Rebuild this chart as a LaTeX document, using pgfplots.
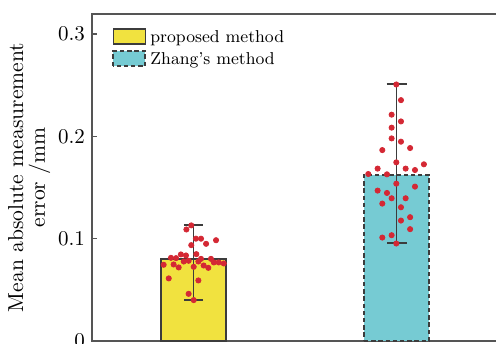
\documentclass[border=0pt]{standalone}
\usepackage{pgfplots}
\pgfplotsset{compat=1.18}
\definecolor{baryellow}{RGB}{241,226,63}
\definecolor{barcyan}{RGB}{118,203,211}
\definecolor{dotred}{RGB}{212,40,52}
\definecolor{edgegray}{RGB}{60,60,60}
\definecolor{axisgray}{RGB}{85,85,85}
\pgfplotsset{boxlegend/.style={legend image code/.code={\draw[##1] (0pt,-0.8pt) rectangle (16pt,6.7pt);}}}
\begin{document}
\begin{tikzpicture}
\begin{axis}[
  name=ax,
  scale only axis,
  width=203pt, height=163.5pt,
  xmin=0.5, xmax=2.5,
  ymin=0, ymax=0.3196,
  xtick=\empty,
  ytick={0,0.1,0.2,0.3},
  yticklabels={0,0.1,0.2,0.3},
  ytick pos=left,
  tick align=inside,
  major tick length=2.5pt,
  tick style={axisgray, line width=0.8pt},
  axis line style={axisgray, line width=1pt},
  yticklabel style={font=\fontsize{10.5}{12}\selectfont},
  ylabel={Mean absolute measurement\\error /mm},
  ylabel style={align=center, font=\fontsize{10.8}{10.8}\selectfont, at={(axis description cs:-0.102,0.5)}, anchor=south, inner sep=0pt},
  legend style={at={(axis description cs:0,1)}, anchor=north west, xshift=10pt, yshift=-7pt,
    draw=none, fill=none, inner sep=0pt, row sep=2.2pt, column sep=2pt,
    font=\fontsize{8.6}{10}\selectfont, nodes={inner sep=0pt, anchor=base west}},
  legend cell align=left,
  clip=false,
]
\addplot[ybar, bar width=32.5pt, bar shift=0pt, fill=baryellow, draw=edgegray, line width=0.8pt,
  boxlegend,
  error bars/.cd, y dir=both, y explicit,
  error bar style={edgegray, line width=0.8pt, solid},
  error mark options={rotate=90, mark size=4.8pt, edgegray, line width=0.8pt, solid}]
  coordinates {(1,0.0802) += (0,0.0332) -= (0,0.0401)};
\addlegendentry{proposed method}
\addplot[ybar, bar width=32.5pt, bar shift=0pt, fill=barcyan, draw=edgegray, line width=1pt,
  dash pattern=on 2.2pt off 1.4pt,
  boxlegend,
  error bars/.cd, y dir=both, y explicit,
  error bar style={edgegray, line width=0.8pt, solid},
  error mark options={rotate=90, mark size=5pt, edgegray, line width=0.8pt, solid}]
  coordinates {(2,0.1623) += (0,0.0889) -= (0,0.0665)};
\addlegendentry{Zhang's method}
\addplot[only marks, mark=*, mark size=1.3pt, color=dotred, forget plot] table {
x y
0.989 0.113
0.965 0.109
1.012 0.100
1.037 0.100
1.111 0.0985
1.062 0.095
0.989 0.0937
0.938 0.0846
0.963 0.0836
1.014 0.0849
0.889 0.0813
0.914 0.081
1.037 0.0803
1.086 0.0803
0.952 0.0777
0.976 0.0784
1.024 0.0777
1.100 0.0768
1.124 0.0768
1.149 0.0758
0.853 0.0745
0.902 0.0748
1.001 0.0725
1.050 0.0738
0.927 0.0719
1.073 0.0715
0.878 0.0612
1.024 0.0592
0.976 0.0461
1.001 0.040
};
\addplot[only marks, mark=*, mark size=1.3pt, color=dotred, forget plot] table {
x y
1.999 0.2507
2.022 0.2354
1.976 0.2212
2.022 0.2146
1.976 0.2085
1.976 0.198
2.022 0.1948
1.930 0.1866
2.067 0.1886
1.999 0.1746
2.135 0.1727
1.907 0.1685
2.045 0.1685
2.091 0.1671
1.861 0.1632
1.953 0.1629
1.999 0.1538
2.091 0.1509
1.907 0.147
1.953 0.1447
1.976 0.1395
2.045 0.1395
1.930 0.1343
2.022 0.1307
2.067 0.121
2.022 0.1177
2.067 0.1093
1.976 0.1034
1.930 0.1011
1.999 0.0953
};
\end{axis}
\pgfresetboundingbox
\useasboundingbox ([xshift=-46pt,yshift=-1pt]ax.south west) rectangle ([xshift=202pt,yshift=170.5pt]ax.south west);
\end{tikzpicture}
\end{document}
